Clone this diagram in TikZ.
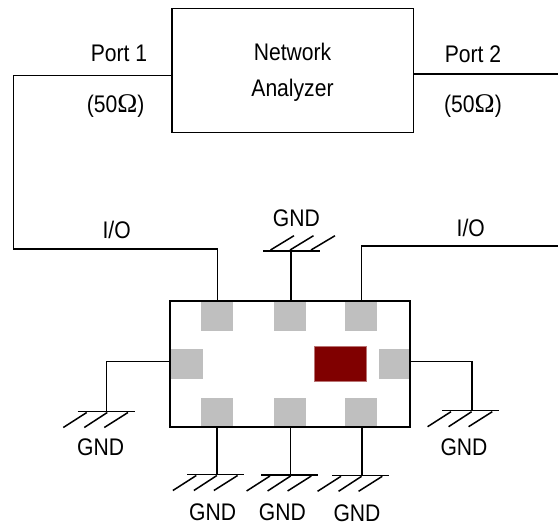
\documentclass[tikz,border=0pt]{standalone}
\usepackage{fontspec}
\setmainfont[FakeStretch=0.88]{Liberation Sans}
\newfontfamily\omegafont{Liberation Serif}
\newcommand{\ohmsign}{{\fontsize{27}{27}\selectfont\omegafont Ω}}
\definecolor{padgray}{HTML}{BFBFBF}
\definecolor{chipred}{HTML}{800000}
\tikzset{
  wire/.style={line width=1.5pt,black,line join=miter},
  boxed/.style={draw=black,line width=1.6pt,fill=white,inner sep=0pt,outer sep=0pt},
  pad/.style={fill=padgray,draw=none,inner sep=0pt,outer sep=0pt},
  chipmark/.style={fill=chipred,draw=chipred!55!white,line width=0.5pt,inner sep=0pt,outer sep=0pt,minimum width=52pt,minimum height=35pt},
  lab/.style={anchor=base,inner sep=0pt,font=\fontsize{24}{27}\selectfont},
  pics/ground/.style={code={
    \draw[wire] (0,0) -- (57,0);
    \draw[wire] (-14.4,16) -- (9,1);
    \draw[wire] (6.6,16) -- (29.6,1);
    \draw[wire] (26.6,16) -- (50.3,1);
  }},
  pics/groundup/.style={code={
    \draw[wire] (0,0) -- (57,0);
    \draw[wire] (7.5,-1) -- (31,-15.3);
    \draw[wire] (27,-1) -- (50.5,-15.3);
    \draw[wire] (48,-1) -- (72,-15.3);
  }}
}
\begin{document}
\begin{tikzpicture}[x=1pt,y=-1pt]
\useasboundingbox (0,0) rectangle (558,525);
% main boxes
\node[boxed,minimum width=241.5pt,minimum height=124pt] (analyzer) at (292.75,70.5) {};
\node[boxed,minimum width=240pt,minimum height=126pt] (chip) at (290,363.7) {};
% pads
\node[pad,minimum width=32pt,minimum height=29pt] (padTL) at (217,316.2) {};
\node[pad,minimum width=32pt,minimum height=29pt] (padTM) at (290,316.2) {};
\node[pad,minimum width=32pt,minimum height=29pt] (padTR) at (361,316.2) {};
\node[pad,minimum width=32pt,minimum height=30pt] (padL) at (187,364) {};
\node[pad,minimum width=30pt,minimum height=30pt] (padR) at (394.2,364) {};
\node[pad,minimum width=32pt,minimum height=28pt] (padBL) at (217,412) {};
\node[pad,minimum width=32pt,minimum height=28pt] (padBM) at (290,412) {};
\node[pad,minimum width=32pt,minimum height=28pt] (padBR) at (361,412) {};
\node[chipmark] (mark) at (339.8,363.6) {};
% free ends and corners
\coordinate (p1a) at (172,75.3);
\coordinate (p1b) at (13.5,75.3);
\coordinate (p1c) at (13.5,249);
\coordinate (p1d) at (217.3,249);
\coordinate (p1e) at (217.3,300.7);
\coordinate (p2a) at (413.5,74);
\coordinate (p2b) at (558,74);
\coordinate (io2a) at (558,246);
\coordinate (io2b) at (361.5,246);
\coordinate (io2c) at (361.5,300.7);
\coordinate (gT) at (291,251);
\coordinate (gTc) at (291,300.7);
\coordinate (gLa) at (170,361.7);
\coordinate (gLb) at (106.7,361.7);
\coordinate (gLc) at (106.7,411.5);
\coordinate (gRa) at (410,361.7);
\coordinate (gRb) at (472,361.7);
\coordinate (gRc) at (472,410.7);
\coordinate (gB1a) at (217,426.7);
\coordinate (gB1b) at (217,474.5);
\coordinate (gB2a) at (290.7,426.7);
\coordinate (gB2b) at (290.7,475);
\coordinate (gB3a) at (362,426.7);
\coordinate (gB3b) at (362,475.3);
% connectors
\draw[wire] (p1a) -- (p1b) -- (p1c) -- (p1d) -- (p1e);
\draw[wire] (p2a) -- (p2b);
\draw[wire] (io2a) -- (io2b) -- (io2c);
\draw[wire] (gT) -- (gTc);
\draw[wire] (gLa) -- (gLb) -- (gLc);
\draw[wire] (gRa) -- (gRb) -- (gRc);
\draw[wire] (gB1a) -- (gB1b);
\draw[wire] (gB2a) -- (gB2b);
\draw[wire] (gB3a) -- (gB3b);
% ground symbols
\pic at (263,251) {groundup};
\pic at (77.7,411.5) {ground};
\pic at (442,410.7) {ground};
\pic at (187.3,474.5) {ground};
\pic at (261,475) {ground};
\pic at (332,475.3) {ground};
% labels
\node[lab] (tP1) at (119,61.5) {Port 1};
\node[lab] (tP2) at (473,62) {Port 2};
\node[lab] (tO1) at (115.6,112) {(50\ohmsign)};
\node[lab] (tO2) at (473,112) {(50\ohmsign)};
\node[lab] (tNet) at (292.5,60) {Network};
\node[lab] (tAna) at (292.5,96) {Analyzer};
\node[lab] (tIO1) at (116.7,238) {I/O};
\node[lab] (tIO2) at (470.8,236) {I/O};
\node[lab] (tG1) at (296.4,226) {GND};
\node[lab] (tG2) at (100.7,455) {GND};
\node[lab] (tG3) at (464,455) {GND};
\node[lab] (tG4) at (212.7,520) {GND};
\node[lab] (tG5) at (282.3,520) {GND};
\node[lab] (tG6) at (357,521) {GND};
\end{tikzpicture}
\end{document}
